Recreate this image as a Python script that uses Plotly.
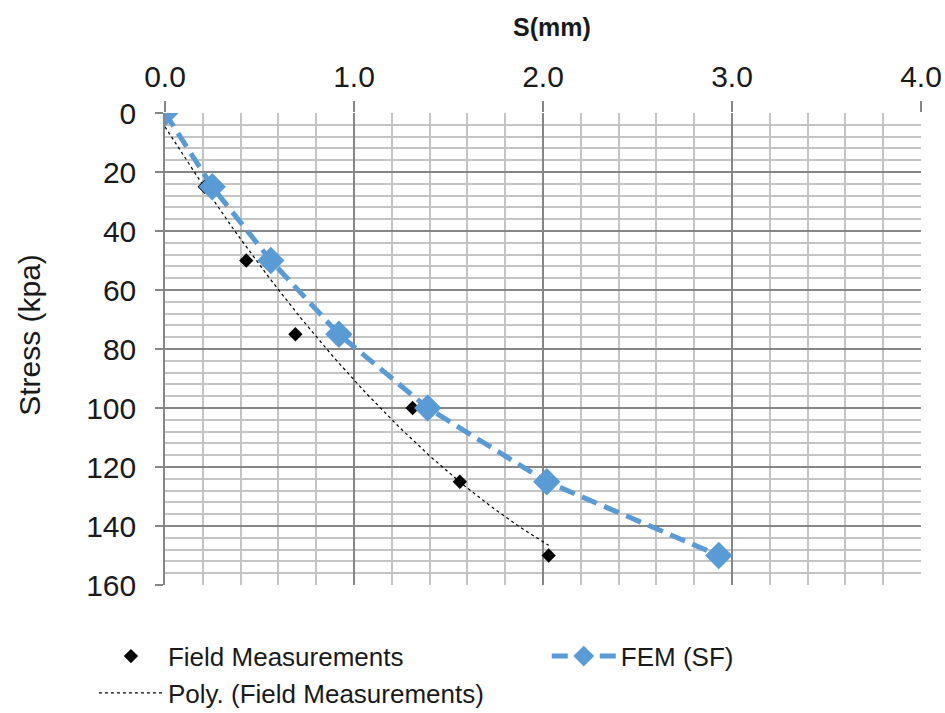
import numpy as np
import plotly.graph_objects as go

# Settlement S (mm) and applied stress (kPa)
field_s = [0.0, 0.21, 0.43, 0.69, 1.31, 1.56, 2.03]
field_stress = [0, 25, 50, 75, 100, 125, 150]

fem_s = [0.0, 0.25, 0.56, 0.92, 1.39, 2.02, 2.93]
fem_stress = [0, 25, 50, 75, 100, 125, 150]

x_ticks = [0.0, 1.0, 2.0, 3.0, 4.0]
y_ticks = [0, 20, 40, 60, 80, 100, 120, 140, 160]

# second-order polynomial trendline of the field measurements
coef = np.polyfit(field_s, field_stress, 2)
trend_s = np.linspace(min(field_s), max(field_s), 120)
trend_stress = np.polyval(coef, trend_s)

BLUE = "#5b9bd5"
MAJOR = "#868686"
MINOR = "#c4c4c4"
TXT = "#1a1a1a"
REG = "Liberation Sans, Arial, sans-serif"

fig = go.Figure()

fig.add_trace(go.Scatter(
    x=field_s, y=field_stress, mode="markers", name="Field Measurements",
    marker=dict(symbol="diamond", size=11, color="black"),
    legend="legend",
))
fig.add_trace(go.Scatter(
    x=trend_s, y=trend_stress, mode="lines", name="Poly. (Field Measurements)",
    line=dict(color="black", width=1.2, dash="dot"),
    legend="legend",
))
fig.add_trace(go.Scatter(
    x=fem_s, y=fem_stress, mode="lines+markers", name="FEM (SF)",
    line=dict(color=BLUE, width=5, dash="16px,8px"),
    marker=dict(symbol="diamond", size=21, color=BLUE),
    legend="legend2",
))

fig.update_layout(
    width=945, height=713,
    margin=dict(l=165, r=24, t=113, b=128, autoexpand=False),
    paper_bgcolor="white", plot_bgcolor="white",
    font=dict(family=REG, size=30, color=TXT),
    showlegend=True,
    legend=dict(
        x=-0.094, y=-0.101, xanchor="left", yanchor="top",
        orientation="v", itemwidth=64,
        font=dict(family=REG, size=26, color=TXT),
        bgcolor="rgba(0,0,0,0)", tracegroupgap=0,
    ),
    legend2=dict(
        x=0.505, y=-0.101, xanchor="left", yanchor="top",
        orientation="v", itemwidth=64,
        font=dict(family=REG, size=26, color=TXT),
        bgcolor="rgba(0,0,0,0)",
    ),
    annotations=[
        dict(text="<b>S(mm)</b>", xref="paper", yref="paper",
             x=0.512, y=1.0, yshift=86, showarrow=False,
             xanchor="center", yanchor="middle",
             font=dict(family=REG, size=25, color=TXT)),
        dict(text="Stress (kpa)", xref="paper", yref="paper",
             x=0.0, xshift=-135, y=0.53, showarrow=False, textangle=-90,
             xanchor="center", yanchor="middle",
             font=dict(family=REG, size=30, color=TXT)),
    ],
)

fig.update_xaxes(
    side="top", range=[0, 4], tickmode="array", tickvals=x_ticks,
    ticktext=[f"{v:.1f}" for v in x_ticks],
    showgrid=True, gridcolor=MAJOR, gridwidth=1.5,
    minor=dict(dtick=0.2, showgrid=True, gridcolor=MINOR, gridwidth=1.5),
    ticks="outside", ticklen=11, tickcolor=MAJOR, tickwidth=1.5,
    ticklabelstandoff=2,
    showline=False, zeroline=False,
    tickfont=dict(family=REG, size=30, color=TXT),
)
fig.update_yaxes(
    range=[160, 0], tickmode="array", tickvals=y_ticks,
    showgrid=True, gridcolor=MAJOR, gridwidth=1.5,
    minor=dict(dtick=4, showgrid=True, gridcolor=MINOR, gridwidth=1.5),
    ticks="outside", ticklen=8, tickcolor=MAJOR, tickwidth=1.5,
    ticklabelstandoff=13,
    showline=True, linecolor=MAJOR, linewidth=1.5, zeroline=False,
    tickfont=dict(family=REG, size=30, color=TXT),
)

fig.write_html("out.html")
